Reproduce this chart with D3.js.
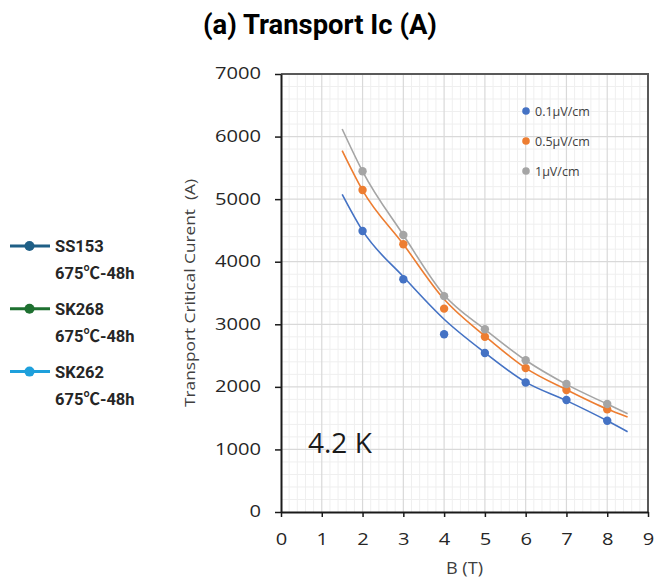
<!DOCTYPE html>
<html>
<head>
<meta charset="utf-8">
<script src="https://cdn.jsdelivr.net/npm/d3@7"></script>
<style>
  body { margin: 0; background: #fff; }
  svg { display: block; }
</style>
</head>
<body>
<svg id="chart"></svg>
<script>
// measured values, B in tesla, Ic in amperes
const fields = [2, 3, 4, 5, 6, 7, 8];
const ic01 = [4490, 3720, 2840, 2540, 2070, 1790, 1458];
const ic05 = [5145, 4280, 3250, 2800, 2300, 1950, 1640];
const ic1  = [5445, 4427, 3450, 2920, 2425, 2045, 1726];

// trend curves
const trendB = [1.5, 2, 3, 4, 5, 6, 7, 8, 8.5];
const trend01 = [5077, 4496, 3760, 3080, 2546, 2075, 1780, 1458, 1283];
const trend05 = [5774, 5141, 4278, 3400, 2813, 2300, 1955, 1645, 1518];
const trend1  = [6121, 5445, 4427, 3468, 2920, 2425, 2040, 1725, 1570];

const seriesNames = ["0.1μV/cm", "0.5μV/cm", "1μV/cm"];
const seriesColors = ["#4472C4", "#ED7D31", "#A5A5A5"];

const samples = ["SS153", "SK268", "SK262"];
const sampleCond = "675℃-48h";
const sampleColors = ["#1F5F86", "#1E7030", "#1EA0DC"];

const xTicks = d3.range(0, 10);
const yTicks = d3.range(0, 8000, 1000);

var width = 667,
    height = 584;
const margin = {left: 281, right: 19, top: 74, bottom: 72};
const stretch = 1.3; // tick labels in the original look widened

const svg = d3.select("#chart").attr("width", width).attr("height", height);

const x = d3.scaleLinear().domain([0, 9]).range([margin.left, width - margin.right]);
const y = d3.scaleLinear().domain([0, 7000]).range([height - margin.bottom, margin.top]);

// minor grid
svg.append("g").selectAll("line")
    .data(d3.range(0, 9.01, 0.2).filter(v => Math.abs(v - Math.round(v)) > 0.01))
    .enter().append("line")
    .attr("x1", d => x(d)).attr("x2", d => x(d))
    .attr("y1", y(0)).attr("y2", y(7000))
    .attr("stroke", "#efefef").attr("stroke-width", 1);
svg.append("g").selectAll("line")
    .data(d3.range(0, 7001, 200).filter(v => v % 1000 !== 0))
    .enter().append("line")
    .attr("y1", d => y(d)).attr("y2", d => y(d))
    .attr("x1", x(0)).attr("x2", x(9))
    .attr("stroke", "#efefef").attr("stroke-width", 1);

// major grid
svg.append("g").selectAll("line")
    .data(xTicks.slice(1, -1))
    .enter().append("line")
    .attr("x1", d => x(d)).attr("x2", d => x(d))
    .attr("y1", y(0)).attr("y2", y(7000))
    .attr("stroke", "#d9d9d9").attr("stroke-width", 1.2);
svg.append("g").selectAll("line")
    .data(yTicks.slice(1, -1))
    .enter().append("line")
    .attr("y1", d => y(d)).attr("y2", d => y(d))
    .attr("x1", x(0)).attr("x2", x(9))
    .attr("stroke", "#d9d9d9").attr("stroke-width", 1.2);

// frame top/right
svg.append("path")
    .attr("d", `M${x(0)},${y(7000)}H${x(9)}V${y(0)}`)
    .attr("fill", "none").attr("stroke", "#595959").attr("stroke-width", 2);

// axes
const fontTick = "'Open Sans', Lato, sans-serif";
const xAxis = svg.append("g")
    .attr("transform", `translate(0,${y(0)})`)
    .call(d3.axisBottom(x).tickValues(xTicks).tickSize(5).tickPadding(17).tickSizeOuter(0));
const yAxis = svg.append("g")
    .attr("transform", `translate(${x(0)},0)`)
    .call(d3.axisLeft(y).tickValues(yTicks).tickFormat(d3.format("d"))
        .tickSize(6).tickPadding(14).tickSizeOuter(0));
[xAxis, yAxis].forEach(g => {
    g.select(".domain").attr("stroke", "#1a1a1a").attr("stroke-width", 2);
    g.selectAll(".tick line").attr("stroke", "#1a1a1a").attr("stroke-width", 1.5);
    g.selectAll("text")
        .attr("fill", "#262626")
        .attr("transform", `scale(${stretch},1)`)
        .style("font-family", fontTick)
        .style("font-size", "15.5px");
});
yAxis.selectAll("text").attr("x", -20 / stretch);

// axis titles
svg.append("text")
    .attr("x", x(4.5)).attr("y", 574)
    .attr("text-anchor", "middle")
    .attr("textLength", 37).attr("lengthAdjust", "spacingAndGlyphs")
    .style("font-family", fontTick).style("font-size", "15.5px")
    .attr("fill", "#404040")
    .text("B (T)");
svg.append("text")
    .attr("transform", `translate(195,${(y(0) + y(7000)) / 2}) rotate(-90)`)
    .attr("text-anchor", "middle")
    .attr("textLength", 228).attr("lengthAdjust", "spacingAndGlyphs")
    .style("font-family", fontTick).style("font-size", "15px")
    .attr("fill", "#404040")
    .style("white-space", "pre")
    .text("Transport Critical Curent  (A)");

// trend curves
const trends = [trend01, trend05, trend1];
const line = d3.line()
    .x(d => x(d[0]))
    .y(d => y(d[1]))
    .curve(d3.curveMonotoneX);
trends.forEach((t, i) => {
    svg.append("path")
        .datum(trendB.map((b, j) => [b, t[j]]))
        .attr("d", line)
        .attr("fill", "none")
        .attr("stroke", seriesColors[i])
        .attr("stroke-width", 1.6);
});

// markers
[ic01, ic05, ic1].forEach((vals, i) => {
    svg.append("g").selectAll("circle")
        .data(vals)
        .enter().append("circle")
        .attr("cx", (d, j) => x(fields[j]))
        .attr("cy", d => y(d))
        .attr("r", 4.2)
        .attr("fill", seriesColors[i]);
});

// inner legend
const leg = svg.append("g");
seriesNames.forEach((name, i) => {
    const ly = 111 + i * 30;
    leg.append("circle").attr("cx", 526).attr("cy", ly).attr("r", 3.8).attr("fill", seriesColors[i]);
    leg.append("text")
        .attr("x", 535).attr("y", ly + 4.5)
        .style("font-family", fontTick).style("font-size", "12.5px")
        .attr("fill", "#404040")
        .text(name);
});

// temperature label
svg.append("text")
    .attr("x", 308).attr("y", 453)
    .style("font-family", fontTick).style("font-size", "28px")
    .attr("fill", "#1a1a1a")
    .text("4.2 K");

// title
svg.append("text")
    .attr("x", 320).attr("y", 34)
    .attr("text-anchor", "middle")
    .attr("textLength", 234).attr("lengthAdjust", "spacingAndGlyphs")
    .style("font-family", "Roboto, 'Noto Sans', sans-serif")
    .style("font-weight", "bold").style("font-size", "27px")
    .attr("fill", "#000")
    .text("(a) Transport Ic (A)");

// sample legend on the left
samples.forEach((s, i) => {
    const ly = 246 + i * 62.8;
    const g = svg.append("g");
    g.append("line")
        .attr("x1", 10).attr("x2", 50).attr("y1", ly).attr("y2", ly)
        .attr("stroke", sampleColors[i]).attr("stroke-width", 3);
    g.append("circle").attr("cx", 29.5).attr("cy", ly).attr("r", 5).attr("fill", sampleColors[i]);
    g.append("text")
        .attr("x", 55).attr("y", ly + 6)
        .style("font-family", "Roboto, 'Noto Sans', sans-serif")
        .style("font-weight", "bold").style("font-size", "16.5px")
        .attr("fill", "#262626")
        .text(s);
    g.append("text")
        .attr("x", 55).attr("y", ly + 33)
        .style("font-family", "Roboto, 'Noto Sans CJK JP', sans-serif")
        .style("font-weight", "bold").style("font-size", "16.5px")
        .attr("fill", "#262626")
        .text(sampleCond);
});
</script>
</body>
</html>
